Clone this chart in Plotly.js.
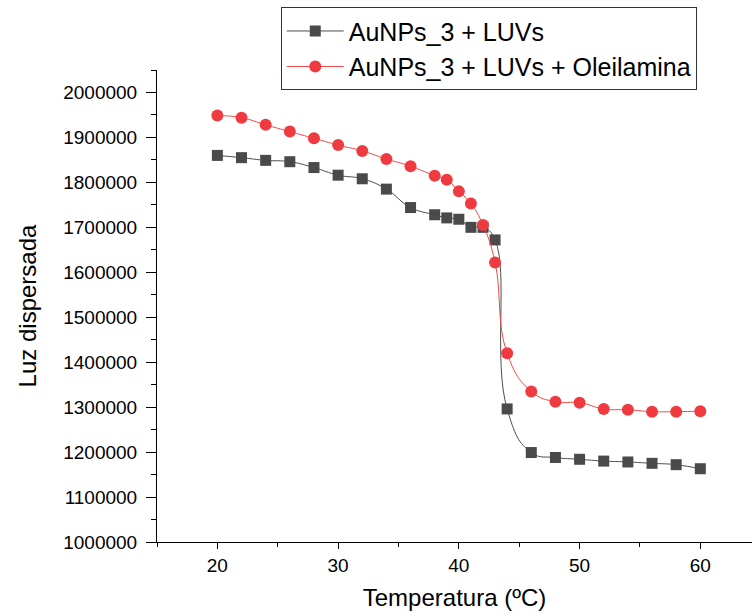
<!DOCTYPE html>
<html>
<head>
<meta charset="utf-8">
<script src="https://cdn.plot.ly/plotly-3.0.1.min.js"></script>
<style>html,body{margin:0;padding:0;background:#fff;}#chart{width:752px;height:614px;}</style>
</head>
<body>
<div id="chart"></div>
<script>
const temperature = [20, 22, 24, 26, 28, 30, 32, 34, 36, 38, 39, 40, 41, 42, 43, 44, 46, 48, 50, 52, 54, 56, 58, 60];
const luvs = [1860000, 1855000, 1849000, 1846000, 1833000, 1816000, 1808000, 1785000, 1744000, 1728000, 1721000, 1718000, 1700000, 1700000, 1672000, 1296000, 1199000, 1188000, 1184000, 1180000, 1178000, 1175000, 1172000, 1163000];
const luvsOleil = [1949000, 1944000, 1928000, 1913000, 1898000, 1883000, 1870000, 1852000, 1836000, 1815000, 1806000, 1780000, 1753000, 1705000, 1622000, 1420000, 1335000, 1312000, 1310000, 1296000, 1294000, 1290000, 1290000, 1291000];
const seriesNames = ["AuNPs_3 + LUVs", "AuNPs_3 + LUVs + Oleilamina"];
const xTitle = "Temperatura (ºC)";
const yTitle = "Luz dispersada";

const traces = [
  {
    x: temperature, y: luvs, name: seriesNames[0], type: 'scatter', mode: 'lines+markers',
    line: {color: '#4d4d4d', width: 1, shape: 'spline', smoothing: 1.3},
    marker: {symbol: 'square', size: 11, color: '#4a4a4a'}
  },
  {
    x: temperature, y: luvsOleil, name: seriesNames[1], type: 'scatter', mode: 'lines+markers',
    line: {color: '#f04a4a', width: 1, shape: 'spline', smoothing: 1.3},
    marker: {symbol: 'circle', size: 12, color: '#ef3b40'}
  }
];

const font = 'Liberation Sans, Arial, sans-serif';
const layout = {
  width: 752, height: 614,
  margin: {l: 157, r: 0, t: 70, b: 72},
  paper_bgcolor: '#fff', plot_bgcolor: '#fff',
  showlegend: true,
  font: {family: font, color: '#000'},
  xaxis: {
    range: [15, 64.28], dtick: 10, tick0: 0,
    showgrid: false, zeroline: false, showline: true, linecolor: '#000', linewidth: 1,
    ticks: 'outside', ticklen: 6, tickcolor: '#000', tickwidth: 1,
    minor: {dtick: 5, tick0: 0, ticks: 'outside', ticklen: 4, tickcolor: '#000', showgrid: false},
    tickfont: {family: font, size: 19, color: '#000'},
    title: {text: xTitle, font: {family: font, size: 24, color: '#000'}, standoff: 14}
  },
  yaxis: {
    range: [1000000, 2050000], dtick: 100000, tick0: 0,
    showgrid: false, zeroline: false, showline: true, linecolor: '#000', linewidth: 1,
    ticks: 'outside', ticklen: 10, tickcolor: '#000', tickwidth: 1,
    ticklabelstandoff: 5,
    minor: {dtick: 50000, tick0: 0, ticks: 'outside', ticklen: 5, tickcolor: '#000', showgrid: false},
    tickformat: 'd', separatethousands: false,
    tickfont: {family: font, size: 19, color: '#000'},
    title: {text: yTitle, font: {family: font, size: 24, color: '#000'}, standoff: 19}
  },
  legend: {
    x: 0.208, y: 1.133, xanchor: 'left', yanchor: 'top',
    bgcolor: '#fff', bordercolor: '#333', borderwidth: 1,
    font: {family: font, size: 25, color: '#000'},
    itemwidth: 57,
    tracegroupgap: 0
  }
};

Plotly.newPlot('chart', traces, layout, {displayModeBar: false, staticPlot: true});
</script>
</body>
</html>
